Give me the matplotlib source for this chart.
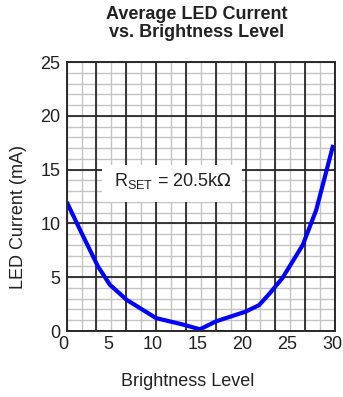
import numpy as np
import matplotlib.pyplot as plt
import matplotlib.transforms as mtransforms

plt.rcParams['font.family'] = ['Liberation Sans', 'DejaVu Sans']

# brightness level vs average LED current (mA), RSET = 20.5k
brightness = [0, 1.67, 3.5, 4.83, 6.7, 10.0, 13.0, 14.9, 16.7, 20.0, 21.5, 22.7, 24.1, 26.4, 27.9, 29.8]
current_ma = [12.0, 9.1, 6.0, 4.3, 2.9, 1.2, 0.6, 0.16, 0.9, 1.8, 2.4, 3.5, 4.9, 8.0, 11.25, 17.3]

x_ticks = [0, 5, 10, 15, 20, 25, 30]
y_ticks = [0, 5, 10, 15, 20, 25]

fig = plt.figure(figsize=(3.43, 3.97), dpi=100)
ax = fig.add_axes([0.1944, 0.1662, 0.7823, 0.6776])
ax.set_xlim(0, 30)
ax.set_ylim(0, 25)

# chart-paper grid: light minor lines, dark major lines
minor_x = np.linspace(0, 30, 19)
major_x = np.linspace(0, 30, 10)
ax.vlines(minor_x, 0, 25, color='#c4c4c4', lw=1.0, zorder=1)
ax.hlines(np.arange(0, 26, 1), 0, 30, color='#c4c4c4', lw=1.0, zorder=1)
ax.vlines(major_x, 0, 25, color='#2a2a2a', lw=1.3, zorder=2)
ax.hlines(np.arange(0, 26, 5), 0, 30, color='#2a2a2a', lw=1.3, zorder=2)

# label box knocks out the grid
ax.fill_between([3.9, 19.65], 12.0, 15.4, color='white', zorder=3, lw=0)
ax.text(11.9, 13.5, r'R$_{\mathregular{SET}}$ = 20.5k$\Omega$', fontsize=13,
        ha='center', va='baseline', zorder=4, color='#222222')

ax.plot(brightness, current_ma, color='#0000ff', lw=3.0, zorder=5,
        solid_capstyle='butt')

for s in ax.spines.values():
    s.set_color('#2a2a2a')
    s.set_linewidth(1.4)
    s.set_zorder(6)

ax.set_xticks(x_ticks)
ax.set_yticks(y_ticks)
ax.tick_params(length=0, labelsize=13, colors='#222222')
ax.tick_params(axis='x', pad=3.5)
ax.tick_params(axis='y', pad=4.5)
shift = mtransforms.ScaledTranslation(-3 / 100, 0, fig.dpi_scale_trans)
for lab in ax.get_xticklabels():
    lab.set_transform(lab.get_transform() + shift)

fig.text(187.5 / 343, 1 - 381 / 397, 'Brightness Level', fontsize=13,
         ha='center', va='center', color='#222222')
fig.text(19 / 343, 1 - 217 / 397, 'LED Current (mA)', fontsize=13, rotation=90,
         ha='center', va='center', color='#222222')
fig.text(197 / 343, 0.985, 'Average LED Current\nvs. Brightness Level', ha='center',
         va='top', fontsize=13, fontweight='bold', color='#222222', linespacing=1.1)

fig.savefig('out.png', dpi=100)
